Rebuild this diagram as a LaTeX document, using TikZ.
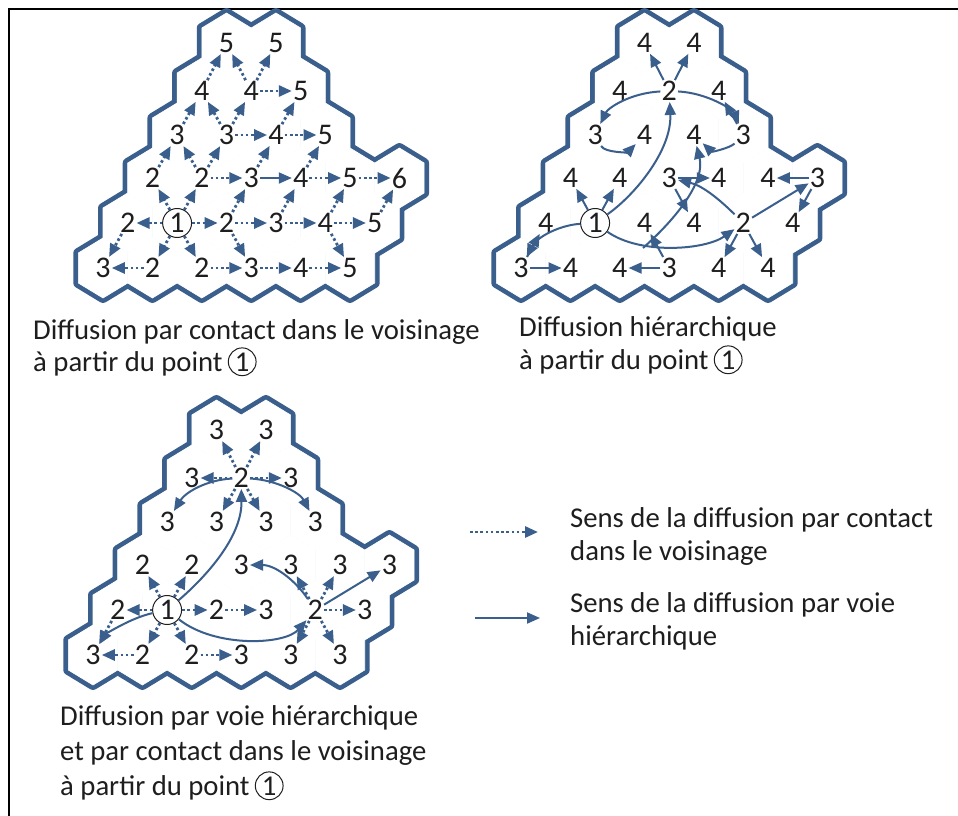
\documentclass[tikz,border=0pt]{standalone}
\usepackage{fontspec}
\setmainfont{Carlito}
\usetikzlibrary{arrows.meta}
\definecolor{diffblue}{RGB}{58,95,140}
\definecolor{txt}{RGB}{30,30,30}

\newcommand\hexregion[3]{%
  \foreach \r/\kmax in {0/5,1/5,2/5,3/3,4/2,5/1}{%
    \foreach \k in {0,...,\kmax}{%
      \pgfmathsetmacro\hx{#2+24.7*\r+49.4*\k}%
      \pgfmathsetmacro\hy{#3-45*\r}%
      \path[#1] ({\hx-24.7},{\hy-15}) -- ({\hx},{\hy-30}) -- ({\hx+24.7},{\hy-15}) -- ({\hx+24.7},{\hy+15}) -- ({\hx},{\hy+30}) -- ({\hx-24.7},{\hy+15}) -- cycle;
    }}}

\newcommand\rowoff[1]{\ifcase#1 0\or 45\or 90\or 133\or 177\or 225\fi}

\newcommand\hexnum[5][]{%
  \pgfmathsetmacro\hx{\mapx+24.7*#3+49.4*#4}%
  \pgfmathsetmacro\hy{\mapy-\rowoff{#3}}%
  \node[numsty,#1] (#2#3#4) at (\hx,\hy) {#5};}

\tikzset{
  hexstroke/.style={draw=diffblue, line width=10pt, line join=round},
  hexfill/.style={fill=white, draw=white, line width=0.6pt},
  numsty/.style={inner sep=1pt, text=txt, font=\fontsize{30}{32}\selectfont},
  startnum/.style={circle, draw=txt, line width=1pt, inner sep=0pt, minimum size=29pt},
  captxt/.style={inner sep=0pt, text=txt, font=\fontsize{28.7}{34}\selectfont},
  capcirc/.style={circle, draw=txt, line width=1pt, inner sep=1.5pt, text=txt, font=\fontsize{28.7}{34}\selectfont},
  dotarr/.style={-{Triangle[length=13pt,width=11pt]}, draw=diffblue, line width=2.8pt, dash pattern=on 2.6pt off 2.6pt},
  solarr/.style={-{Triangle[length=13pt,width=11pt]}, draw=diffblue, line width=2pt},
}

\begin{document}
\begin{tikzpicture}[x=1pt,y=-1pt]
\useasboundingbox (0,0) rectangle (958,816);
\fill[white] (0,0) rectangle (958,816);
\draw[line width=2.5pt, line cap=rect] (9,816) -- (9,9) -- (958,9);

% ---------- regions
\hexregion{hexstroke}{103}{268}
\hexregion{hexstroke}{521}{268}
\hexregion{hexstroke}{93}{655}
\hexregion{hexfill}{103}{268}
\hexregion{hexfill}{521}{268}
\hexregion{hexfill}{93}{655}

% ---------- map 1
\def\mapx{103}\def\mapy{268}
\foreach \r/\k/\t in {0/0/3,0/1/2,0/2/2,0/3/3,0/4/4,0/5/5,
  1/0/2,1/2/2,1/3/3,1/4/4,1/5/5,
  2/0/2,2/1/2,2/2/3,2/3/4,2/4/5,2/5/6,
  3/0/3,3/1/3,3/2/4,3/3/5,
  4/0/4,4/1/4,4/2/5,
  5/0/5,5/1/5}{\hexnum{a}{\r}{\k}{\t}}
\hexnum[startnum]{a}{1}{1}{1}

\foreach \s/\t in {11/10,11/20,11/21,11/12,11/01,11/02,
  10/00,01/00,02/03,12/03,12/13,12/22,
  21/22,21/30,21/31,20/30,
  22/32,13/23,13/14,03/04,
  31/32,31/40,31/41,30/40,
  40/50,41/50,41/51,41/42,
  32/42,32/33,23/33,23/24,
  14/24,14/15,14/05,04/05,
  24/25,15/25}{\draw[dotarr] (a\s) -- (a\t);}
\draw[solarr] (a22) -- (a23);

% ---------- map 2
\def\mapx{521}\def\mapy{268}
\foreach \r/\k/\t in {0/0/3,0/1/4,0/2/4,0/3/3,0/4/4,0/5/4,
  1/0/4,1/2/4,1/3/4,1/4/2,1/5/4,
  2/0/4,2/1/4,2/2/3,2/3/4,2/4/4,2/5/3,
  3/0/3,3/1/4,3/2/4,3/3/3,
  4/0/4,4/1/2,4/2/4,
  5/0/4,5/1/4}{\hexnum{b}{\r}{\k}{\t}}
\hexnum[startnum]{b}{1}{1}{1}

\foreach \s/\t in {11/20,11/21,41/50,41/51,33/42,22/23,22/13,
  14/25,25/24,25/15,14/04,14/05,00/01,00/10,03/02,03/12}{\draw[solarr] (b\s) -- (b\t);}
\draw[solarr] (b11) .. controls (635,195) and (672,150) .. (b41);
\draw[solarr] (b11) .. controls (560,225) and (537,237) .. (b00);
\draw[solarr] (b11) .. controls (640,255) and (705,250) .. (b14);
\draw[solarr] (b41) .. controls (630,93) and (608,108) .. (b30);
\draw[solarr] (b41) .. controls (708,93) and (733,110) .. (b33);
\draw[solarr] (b30) .. controls (605,153) and (628,152) .. (b31);
\draw[solarr] (b33) .. controls (730,148) and (712,152) .. (b32);
\draw[solarr] (b14) .. controls (715,195) and (700,185) .. (b22);
\coordinate (bm) at (643,248);
\draw[solarr] (bm) .. controls (680,215) and (705,180) .. (b32);

% ---------- map 3
\def\mapx{93}\def\mapy{655}
\foreach \r/\k/\t in {0/0/3,0/1/2,0/2/2,0/3/3,0/4/3,0/5/3,
  1/0/2,1/2/2,1/3/3,1/4/2,1/5/3,
  2/0/2,2/1/2,2/2/3,2/3/3,2/4/3,2/5/3,
  3/0/3,3/1/3,3/2/3,3/3/3,
  4/0/3,4/1/2,4/2/3,
  5/0/3,5/1/3}{\hexnum{c}{\r}{\k}{\t}}
\hexnum[startnum]{c}{1}{1}{1}

\foreach \s/\t in {11/10,11/20,11/21,11/12,11/01,11/02,
  10/00,01/00,02/03,12/13,
  41/50,41/51,41/40,41/42,41/31,41/32,
  14/23,14/24,14/15,14/04,14/05}{\draw[dotarr] (c\s) -- (c\t);}
\draw[solarr] (c11) .. controls (200,582) and (242,540) .. (c41);
\draw[solarr] (c11) .. controls (215,648) and (285,645) .. (c14);
\draw[solarr] (c11) .. controls (130,618) and (105,635) .. (c00);
\draw[solarr] (c41) .. controls (205,480) and (185,493) .. (c30);
\draw[solarr] (c41) .. controls (277,480) and (300,493) .. (c33);
\draw[solarr] (c14) .. controls (295,580) and (275,565) .. (c22);
\draw[solarr] (c14) -- (c25);

% ---------- captions
\node[captxt, anchor=base west] (cap1a) at (33,339) {Diffusion par contact dans le voisinage};
\node[captxt, anchor=base west] (cap1b) at (33,371) {à partir du point};
\node[capcirc, anchor=base west] (cap1c) at ([xshift=5pt]cap1b.base east) {1};

\node[captxt, anchor=base west] (cap2a) at (519,336) {Diffusion hiérarchique};
\node[captxt, anchor=base west] (cap2b) at (519,369) {à partir du point};
\node[capcirc, anchor=base west] (cap2c) at ([xshift=5pt]cap2b.base east) {1};

\node[captxt, anchor=base west] (cap3a) at (60,725) {Diffusion par voie hiérarchique};
\node[captxt, anchor=base west] (cap3b) at (60,760) {et par contact dans le voisinage};
\node[captxt, anchor=base west] (cap3c) at (60,795) {à partir du point};
\node[capcirc, anchor=base west] (cap3d) at ([xshift=5pt]cap3c.base east) {1};

% ---------- legend
\coordinate (l1s) at (470,532); \coordinate (l1e) at (538,532);
\coordinate (l2s) at (475,618); \coordinate (l2e) at (540,618);
\draw[dotarr] (l1s) -- (l1e);
\draw[solarr] (l2s) -- (l2e);
\node[captxt, anchor=base west] (leg1a) at (570,527) {Sens de la diffusion par contact};
\node[captxt, anchor=base west] (leg1b) at (570,560) {dans le voisinage};
\node[captxt, anchor=base west] (leg2a) at (570,612) {Sens de la diffusion par voie};
\node[captxt, anchor=base west] (leg2b) at (570,645) {hiérarchique};
\end{tikzpicture}
\end{document}
